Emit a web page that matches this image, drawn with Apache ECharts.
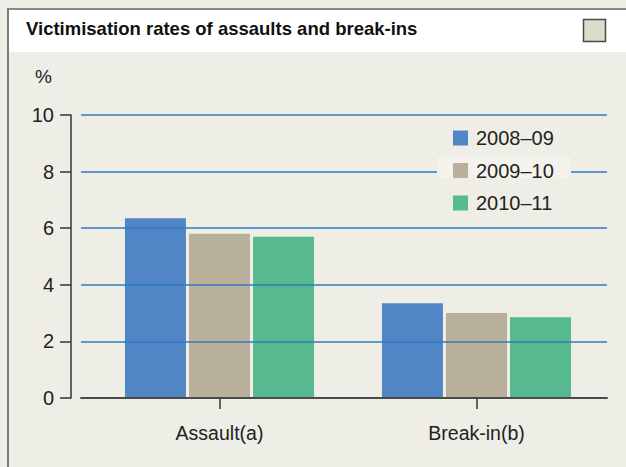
<!DOCTYPE html>
<html>
<head>
<meta charset="utf-8">
<script src="https://cdn.jsdelivr.net/npm/echarts@6/dist/echarts.min.js"></script>
<style>
  html, body { margin: 0; padding: 0; background: #efeee6; }
  #chart { width: 626px; height: 467px; }
</style>
</head>
<body>
<div id="chart"></div>
<script>
// Victimisation rates (%), by offence type and survey year
const categories = ['Assault(a)', 'Break-in(b)'];
const seriesNames = ['2008–09', '2009–10', '2010–11'];
const rates2008 = [6.35, 3.35];
const rates2009 = [5.8, 3.0];
const rates2010 = [5.7, 2.85];
const yMin = 0, yMax = 10, yStep = 2;

const FONT = "'Liberation Sans', Arial, sans-serif";
const colors = ['#5085c6', '#b8b09a', '#56b98f'];

const chart = echarts.init(document.getElementById('chart'), null, { renderer: 'svg' });

const barSeries = [rates2008, rates2009, rates2010].map((vals, i) => ({
  name: seriesNames[i],
  type: 'bar',
  xAxisIndex: 1,
  yAxisIndex: 1,
  z: 1,
  barWidth: 61,
  barGap: '5%',
  itemStyle: { color: colors[i] },
  data: vals
}));

chart.setOption({
  backgroundColor: '#efeee6',
  animation: false,
  textStyle: { fontFamily: FONT },
  color: colors,
  title: {
    text: 'Victimisation rates of assaults and break-ins',
    left: 26, top: 19, padding: 0,
    textStyle: { fontFamily: FONT, fontSize: 18.5, fontWeight: 'bold', color: '#111' }
  },
  legend: {
    orient: 'vertical',
    left: 453, top: 128,
    padding: 0,
    itemWidth: 15, itemHeight: 15, itemGap: 12.5,
    icon: 'rect',
    z: 4,
    data: seriesNames,
    textStyle: { fontFamily: FONT, fontSize: 20, color: '#222', padding: [0, 0, 0, 3] }
  },
  grid: [
    { left: 81, right: 19, top: 115, bottom: 69 },
    { left: 91, right: 21, top: 115, bottom: 69 }
  ],
  xAxis: [
    {
      gridIndex: 0, type: 'category', data: categories, z: 3,
      axisLine: { lineStyle: { color: '#4a4a4a', width: 2 } },
      axisTick: { show: false }, axisLabel: { show: false }, splitLine: { show: false }
    },
    {
      gridIndex: 1, type: 'category', data: categories,
      axisLine: { show: false },
      axisTick: { show: true, alignWithLabel: true, length: 11, lineStyle: { color: '#333', width: 1.5 } },
      axisLabel: { fontFamily: FONT, fontSize: 19.5, color: '#222', margin: 25 }
    }
  ],
  yAxis: [
    {
      gridIndex: 0, type: 'value', min: yMin, max: yMax, interval: yStep,
      offset: 10, z: 2,
      name: '%', nameLocation: 'end', nameGap: 29,
      nameTextStyle: { fontFamily: FONT, fontSize: 19, color: '#222', align: 'right', padding: [0, 19, 0, 0] },
      axisLine: { show: true, lineStyle: { color: '#333', width: 1.5 } },
      axisTick: { show: true, length: 11, lineStyle: { color: '#333', width: 1.5 } },
      axisLabel: { fontFamily: FONT, fontSize: 20, color: '#222', margin: 17 },
      splitLine: { show: true, lineStyle: { color: '#2f7bc2', width: 1.5 } }
    },
    {
      gridIndex: 1, type: 'value', min: yMin, max: yMax, interval: yStep, show: false
    }
  ],
  graphic: [
    { type: 'rect', z: 0, shape: { x: 9, y: 10, width: 617, height: 42 }, style: { fill: '#ffffff' } },
    { type: 'rect', z: 0, shape: { x: 7, y: 8, width: 619, height: 2 }, style: { fill: '#8a8a8a' } },
    { type: 'rect', z: 0, shape: { x: 7, y: 8, width: 2, height: 459 }, style: { fill: '#7a7a7a' } },
    { type: 'rect', z: 0, shape: { x: 583.5, y: 19.5, width: 22, height: 22 }, style: { fill: '#dddccb', stroke: '#4a4a45', lineWidth: 1.5 } },
    { type: 'rect', z: 3, shape: { x: 437, y: 157, width: 134, height: 21 }, style: { fill: '#f4f2ec' } }
  ],
  series: barSeries
});
</script>
</body>
</html>
